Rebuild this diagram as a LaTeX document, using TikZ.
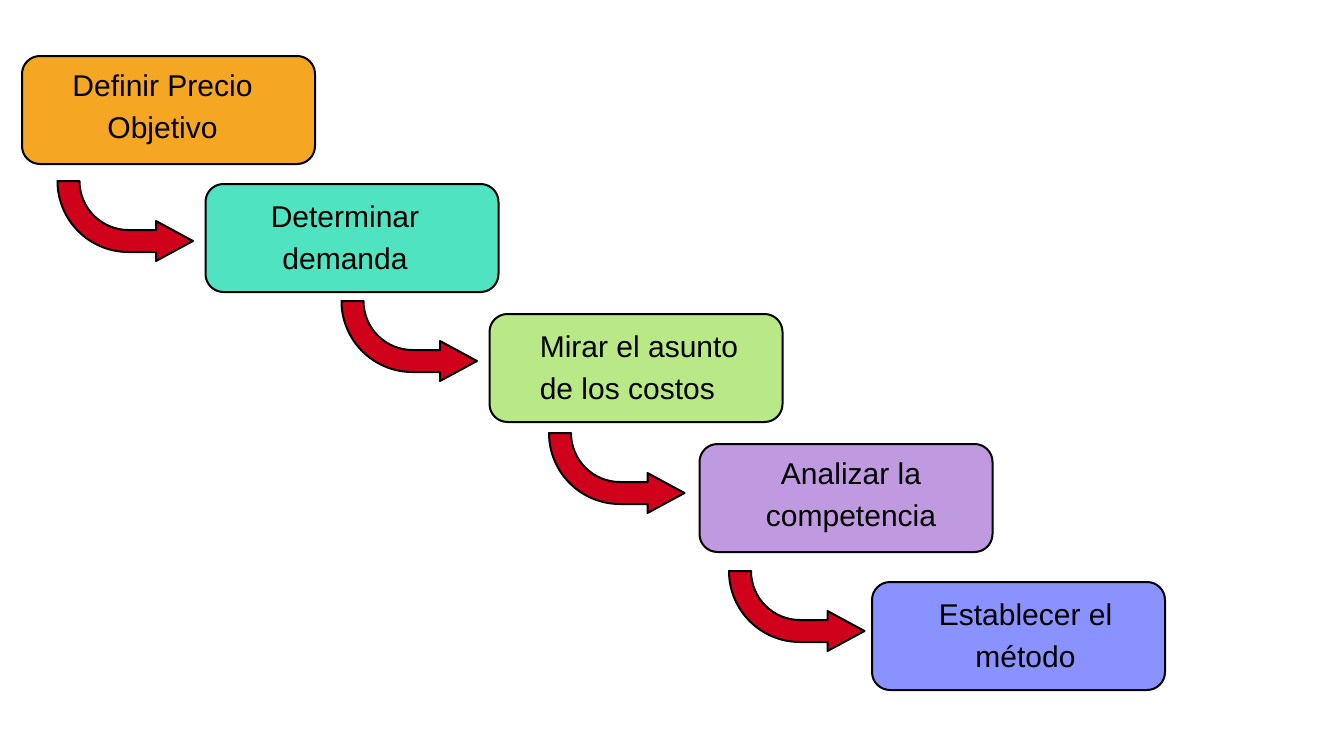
\documentclass[tikz,border=0pt]{standalone}
\usepackage{fontspec}
\setmainfont{Liberation Sans}
\definecolor{cOrange}{HTML}{F5A623}
\definecolor{cTeal}{HTML}{50E3C2}
\definecolor{cGreen}{HTML}{B8E986}
\definecolor{cPurple}{HTML}{C09AE0}
\definecolor{cBlue}{HTML}{8A92FF}
\definecolor{cRed}{HTML}{D0021B}
\newcommand\ls[1]{\hspace*{#1pt}}
\tikzset{
  stepbox/.style={draw=black, line width=1pt, rounded corners=9pt,
    minimum width=146.5pt, minimum height=54pt, inner sep=0pt,
    align=center, font=\fontsize{15}{21}\selectfont},
  arrowshape/.style={draw=black, fill=cRed, line width=1pt, line join=round},
  curvearrow/.pic={
    \path[arrowshape] (-11,0) arc[start angle=180, end angle=270, radius=35.5pt]
      -- (87.5,-71) -- (87.5,-80) -- (124.5,-60) -- (87.5,-40) -- (87.5,-49)
      -- (60,-49) arc[start angle=270, end angle=180, radius=24.5pt] -- cycle;
  }
}
\begin{document}
\begin{tikzpicture}[x=0.5pt, y=0.5pt]
\useasboundingbox (0,0) rectangle (1324,752);
\node[stepbox, fill=cOrange] (b1) at (168.5,642) {\ls{-6}Definir Precio\\\ls{-6}Objetivo};
\node[stepbox, fill=cTeal]   (b2) at (352,514) {\ls{-7}Determinar\\\ls{-7}demanda};
\node[stepbox, fill=cGreen, align=left] (b3) at (636,384) {\ls{3}Mirar el asunto\\\ls{3}de los costos};
\node[stepbox, fill=cPurple] (b4) at (846,254) {\ls{5}Analizar la\\\ls{5}competencia};
\node[stepbox, fill=cBlue]   (b5) at (1018.5,116) {\ls{7}Establecer el\\\ls{7}método};
\coordinate (a1) at (68.5,571);
\coordinate (a2) at (352.5,451);
\coordinate (a3) at (560,319);
\coordinate (a4) at (740,181);
\pic at (a1) {curvearrow};
\pic at (a2) {curvearrow};
\pic at (a3) {curvearrow};
\pic at (a4) {curvearrow};
\end{tikzpicture}
\end{document}
